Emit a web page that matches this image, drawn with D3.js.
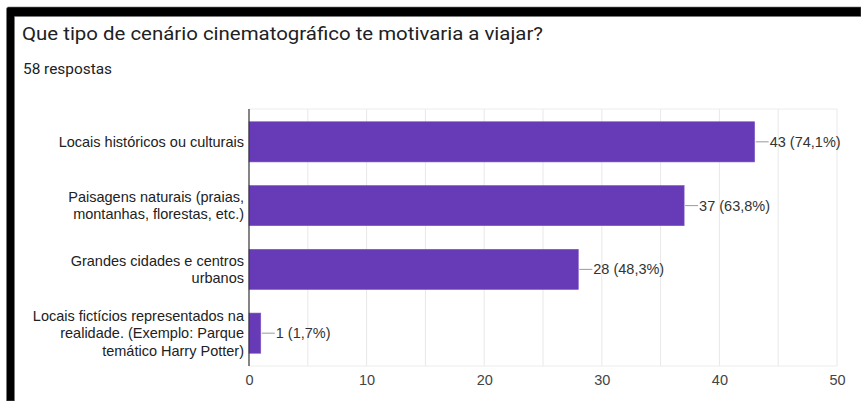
<!DOCTYPE html>
<html>
<head>
<meta charset="utf-8">
<script src="https://cdn.jsdelivr.net/npm/d3@7/dist/d3.min.js"></script>
<style>
  html, body { margin: 0; padding: 0; background: #fff; }
  svg { display: block; }
</style>
</head>
<body>
<script>
// Survey question and answer data
const title = "Que tipo de cenário cinematográfico te motivaria a viajar?";
const subtitle = "58 respostas";
const categories = [
  "Locais históricos ou culturais",
  "Paisagens naturais (praias,\nmontanhas, florestas, etc.)",
  "Grandes cidades e centros\nurbanos",
  "Locais fictícios representados na\nrealidade. (Exemplo: Parque\ntemático Harry Potter)"
];
const counts = [43, 37, 28, 1];
const percents = ["74,1%", "63,8%", "48,3%", "1,7%"];
const xTicks = [0, 10, 20, 30, 40, 50];
const gridValues = [5, 10, 15, 20, 25, 30, 35, 40, 45, 50];

const W = 861, H = 401;
const plot = { left: 249, right: 837, top: 109, bottom: 366 };
const labelFont = "Arial, 'Liberation Sans', sans-serif";

const svg = d3.select("body").append("svg")
  .attr("width", W).attr("height", H);

svg.append("rect").attr("width", W).attr("height", H).attr("fill", "#fff");

// Dark frame along the top and left edges
svg.append("path")
  .attr("d", `M6.5,401 L6.5,9 Q6.5,7 8.5,7 L861,7 L861,16.5 L14.5,16.5 L14.5,401 Z`)
  .attr("fill", "#000")
  .attr("stroke", "#777")
  .attr("stroke-width", 0.6);

// Heading (slightly wide rendering, stretched to its line length)
svg.append("text")
  .attr("x", 22).attr("y", 39.5)
  .attr("font-family", "Roboto, sans-serif")
  .attr("font-size", 18.5)
  .attr("fill", "#202124")
  .attr("textLength", 521)
  .attr("lengthAdjust", "spacingAndGlyphs")
  .text(title);

svg.append("text")
  .attr("x", 23).attr("y", 74)
  .attr("font-family", "Roboto, sans-serif")
  .attr("font-size", 14)
  .attr("fill", "#202124")
  .attr("textLength", 89)
  .attr("lengthAdjust", "spacingAndGlyphs")
  .text(subtitle);

// Scales
const x = d3.scaleLinear().domain([0, 50]).range([plot.left, plot.right]);
const y = d3.scaleBand().domain(categories)
  .range([plot.top, plot.bottom])
  .paddingInner(0.37).paddingOuter(0.2);

// Gridlines
const grid = svg.append("g");
grid.selectAll("line.v").data(gridValues).join("line")
  .attr("class", "v")
  .attr("x1", d => x(d)).attr("x2", d => x(d))
  .attr("y1", plot.top).attr("y2", plot.bottom)
  .attr("stroke", "#e8e8e8").attr("stroke-width", 1);
grid.selectAll("line.h").data([plot.top, plot.bottom]).join("line")
  .attr("class", "h")
  .attr("x1", plot.left).attr("x2", plot.right)
  .attr("y1", d => d).attr("y2", d => d)
  .attr("stroke", "#ececec").attr("stroke-width", 1);

// Bars
svg.append("g").selectAll("rect").data(categories).join("rect")
  .attr("x", x(0))
  .attr("y", d => y(d))
  .attr("width", (d, i) => x(counts[i]) - x(0))
  .attr("height", y.bandwidth())
  .attr("fill", "#673ab7")
  .attr("stroke", "#7e57c2")
  .attr("stroke-width", 0.6);

// Baseline axis at zero
svg.append("line")
  .attr("x1", x(0)).attr("x2", x(0))
  .attr("y1", plot.top).attr("y2", plot.bottom)
  .attr("stroke", "#333").attr("stroke-width", 1.2);

// X axis tick labels
const xAxis = d3.axisBottom(x).tickValues(xTicks).tickSize(0).tickPadding(9);
const gx = svg.append("g")
  .attr("transform", `translate(0,${plot.bottom})`)
  .call(xAxis);
gx.select(".domain").remove();
gx.selectAll("text")
  .attr("font-family", labelFont)
  .attr("font-size", 14.5)
  .attr("fill", "#444");

// Category labels, right aligned and wrapped
const lineH = 17.5;
const catG = svg.append("g");
categories.forEach((c, i) => {
  const lines = c.split("\n");
  const cy = y(c) + y.bandwidth() / 2;
  const t = catG.append("text")
    .attr("text-anchor", "end")
    .attr("font-family", labelFont)
    .attr("font-size", 14.5)
    .attr("fill", "#222");
  lines.forEach((ln, j) => {
    t.append("tspan")
      .attr("x", plot.left - 5)
      .attr("y", cy + (j - (lines.length - 1) / 2) * lineH)
      .attr("dy", "0.35em")
      .text(ln);
  });
});

// Value labels with leader lines
const valG = svg.append("g");
categories.forEach((c, i) => {
  const cy = y(c) + y.bandwidth() / 2;
  const xe = x(counts[i]);
  valG.append("line")
    .attr("x1", xe + 1).attr("x2", xe + 14)
    .attr("y1", cy).attr("y2", cy)
    .attr("stroke", "#999").attr("stroke-width", 1);
  valG.append("text")
    .attr("x", xe + 15).attr("y", cy).attr("dy", "0.35em")
    .attr("font-family", labelFont)
    .attr("font-size", 14.5)
    .attr("fill", "#333")
    .text(`${counts[i]} (${percents[i]})`);
});
</script>
</body>
</html>
